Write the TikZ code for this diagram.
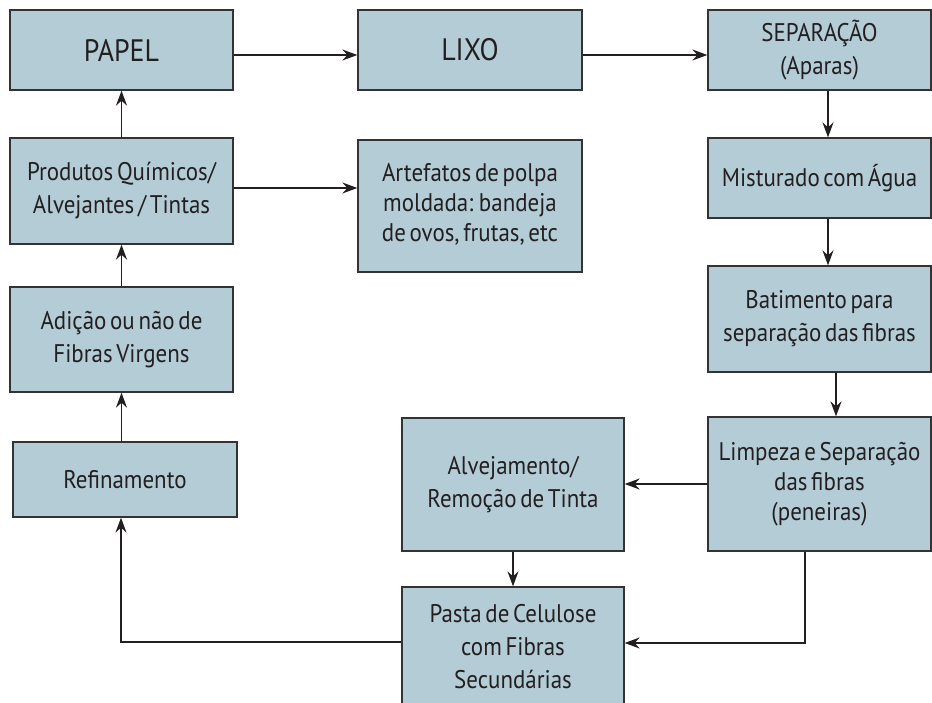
\documentclass[tikz,border=0pt]{standalone}
\usepackage{fontspec}
\setmainfont{PT Sans}[FakeStretch=0.9, WordSpace=0.6]
\usetikzlibrary{arrows.meta}
\definecolor{boxfill}{HTML}{B3CCD6}
\definecolor{boxline}{HTML}{333333}
\definecolor{ink}{HTML}{231F20}
\tikzset{
  box/.style={draw=boxline, line width=1.3pt, fill=boxfill, align=center, inner sep=0pt,
    font=\fontsize{25.5}{33}\selectfont, text=ink},
  tight/.style={font=\fontsize{25.5}{30}\selectfont},
  big/.style={font=\fontsize{31}{37}\selectfont},
  conn/.style={line width=1.5pt, draw=ink, -{Stealth[length=15pt,width=11pt,inset=5pt]}},
}
\begin{document}
\begin{tikzpicture}[x=1pt,y=-1pt]
\useasboundingbox (0,0) rectangle (932,703);
\begin{scope}
\clip (0,0) rectangle (932,703);
\node[box,big, minimum width=223pt, minimum height=80pt] (papel) at (121.5,50) {PAPEL};
\node[box,big, minimum width=224pt, minimum height=80pt] (lixo) at (470,50) {LIXO};
\node[box, minimum width=223pt, minimum height=80pt] (sep) at (819.5,50) {SEPARAÇÃO\\(Aparas)};
\node[box, minimum width=223pt, minimum height=106pt] (prod) at (121.5,191) {Produtos Químicos/\\Alvejantes / Tintas};
\node[box, minimum width=224pt, minimum height=132pt] (art) at (470,206) {\raisebox{14pt}{\fontsize{25.5}{30}\selectfont\begin{tabular}{@{}c@{}}Artefatos de polpa\\moldada: bandeja\\de ovos, frutas, etc\end{tabular}}};
\node[box, minimum width=223pt, minimum height=80pt] (mist) at (819.5,178) {Misturado com Água};
\node[box, minimum width=223pt, minimum height=105pt] (adic) at (121.5,339.5) {Adição ou não de\\Fibras Virgens};
\node[box, minimum width=223pt, minimum height=106pt] (bat) at (819.5,319) {Batimento para\\separação das fibras};
\node[box, minimum width=224pt, minimum height=75pt] (ref) at (125,479.5) {Refinamento};
\node[box, minimum width=222pt, minimum height=133pt] (alv) at (513,484.5) {Alvejamento/\\Remoção de Tinta};
\node[box, tight, minimum width=223pt, minimum height=134pt] (limp) at (819.5,484) {Limpeza e Separação\\das fibras\\(peneiras)};
\node[box, minimum width=222pt, minimum height=120pt] (pasta) at (513,647) {Pasta de Celulose\\com Fibras\\Secundárias};
\end{scope}
\draw[conn] ([yshift=-5pt]papel.east) -- ([yshift=-5pt]lixo.west);
\draw[conn] ([yshift=-5pt]lixo.east) -- ([yshift=-5pt]sep.west);
\draw[conn] ([xshift=8.5pt]sep.south) -- ([xshift=8.5pt]mist.north);
\draw[conn] ([xshift=8.5pt]mist.south) -- ([xshift=8.5pt]bat.north);
\draw[conn] ([xshift=16.5pt]bat.south) -- ([xshift=16.5pt]limp.north);
\draw[conn] (limp.west) -- (limp.west -| alv.east);
\draw[conn] (alv.south) -- (pasta.north);
\coordinate (lstart) at ([xshift=-14.5pt]limp.south);
\coordinate (lend) at ([yshift=4pt]pasta.east);
\draw[conn] (lstart) -- (lstart |- lend) -- (lend);
\coordinate (pstart) at ([yshift=5pt]pasta.west);
\coordinate (rend) at ([xshift=-4pt]ref.south);
\draw[conn] (pstart) -- (pstart -| rend) -- (rend);
\draw[conn] (ref.north -| adic.south) -- (adic.south);
\draw[conn] (adic.north) -- (prod.south);
\draw[conn] (prod.north) -- (papel.south);
\draw[conn] ([yshift=3pt]prod.east) -- ([yshift=3pt]prod.east -| art.west);
\end{tikzpicture}
\end{document}
